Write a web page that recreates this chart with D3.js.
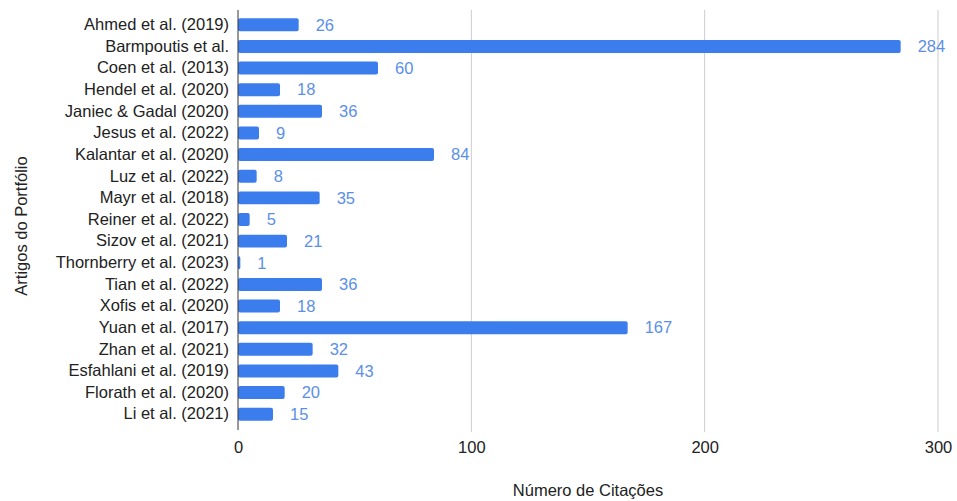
<!DOCTYPE html>
<html><head><meta charset="utf-8">
<script src="https://cdn.jsdelivr.net/npm/d3@7"></script>
<style>body{margin:0;background:#fff}svg{display:block}</style>
</head><body>
<svg id="c" width="957" height="501"></svg>
<script>
(function(){
const categories = ["Ahmed et al. (2019)","Barmpoutis et al.","Coen et al. (2013)","Hendel et al. (2020)","Janiec & Gadal (2020)","Jesus et al. (2022)","Kalantar et al. (2020)","Luz et al. (2022)","Mayr et al. (2018)","Reiner et al. (2022)","Sizov et al. (2021)","Thornberry et al. (2023)","Tian et al. (2022)","Xofis et al. (2020)","Yuan et al. (2017)","Zhan et al. (2021)","Esfahlani et al. (2019)","Florath et al. (2020)","Li et al. (2021)"];
const citations = [26,284,60,18,36,9,84,8,35,5,21,1,36,18,167,32,43,20,15];
const xTicks = [0,100,200,300];

const svg = d3.select("#c");
const font = "'Liberation Sans', Arial, sans-serif";
const fs = "16.5px";
const mLeft = 238, mRight = 938, mTop = 14, mBottom = 425;
const x = d3.scaleLinear().domain([0,300]).range([mLeft,mRight]);
const y = d3.scaleBand().domain(categories).range([mTop,mBottom]).paddingInner(0.4).paddingOuter(0.2);

// grid
svg.append("g").selectAll("line").data(xTicks.slice(1)).join("line")
  .attr("x1",d=>x(d)).attr("x2",d=>x(d)).attr("y1",10).attr("y2",432)
  .attr("stroke","#cccccc").attr("stroke-width",1);

// bars
svg.append("g").selectAll("rect").data(citations).join("rect")
  .attr("x",x(0)).attr("y",(d,i)=>y(categories[i]))
  .attr("width",d=>x(d)-x(0)).attr("height",y.bandwidth())
  .attr("rx",2).attr("fill","#3b7ded");

// value labels
svg.append("g").selectAll("text").data(citations).join("text")
  .attr("x",d=>x(d)+17).attr("y",(d,i)=>y(categories[i])+y.bandwidth()/2)
  .attr("dy","0.35em").attr("fill","#5b8fe8")
  .style("font-family",font).style("font-size",fs).text(d=>d);

// zero axis line
svg.append("line").attr("x1",x(0)).attr("x2",x(0)).attr("y1",10).attr("y2",430)
  .attr("stroke","#333").attr("stroke-width",1);

// y axis labels
const ya = d3.axisLeft(y).tickSize(0).tickPadding(9);
const yg = svg.append("g").attr("transform",`translate(${x(0)},0)`).call(ya);
yg.select(".domain").remove();
yg.selectAll("text").style("font-family",font).style("font-size",fs).attr("fill","#222");

// x axis labels
const xa = d3.axisBottom(x).tickValues(xTicks).tickSize(0).tickPadding(0);
const xg = svg.append("g").attr("transform",`translate(0,441)`).call(xa);
xg.select(".domain").remove();
xg.selectAll("text").style("font-family",font).style("font-size",fs).attr("fill","#222");

// titles
svg.append("text").attr("x",588).attr("y",496).attr("text-anchor","middle")
  .style("font-family",font).style("font-size",fs).attr("fill","#222").text("Número de Citações");
svg.append("text").attr("transform","translate(27,226) rotate(-90)").attr("text-anchor","middle")
  .style("font-family",font).style("font-size",fs).attr("fill","#222").text("Artigos do Portfólio");
})();
</script>
</body></html>
